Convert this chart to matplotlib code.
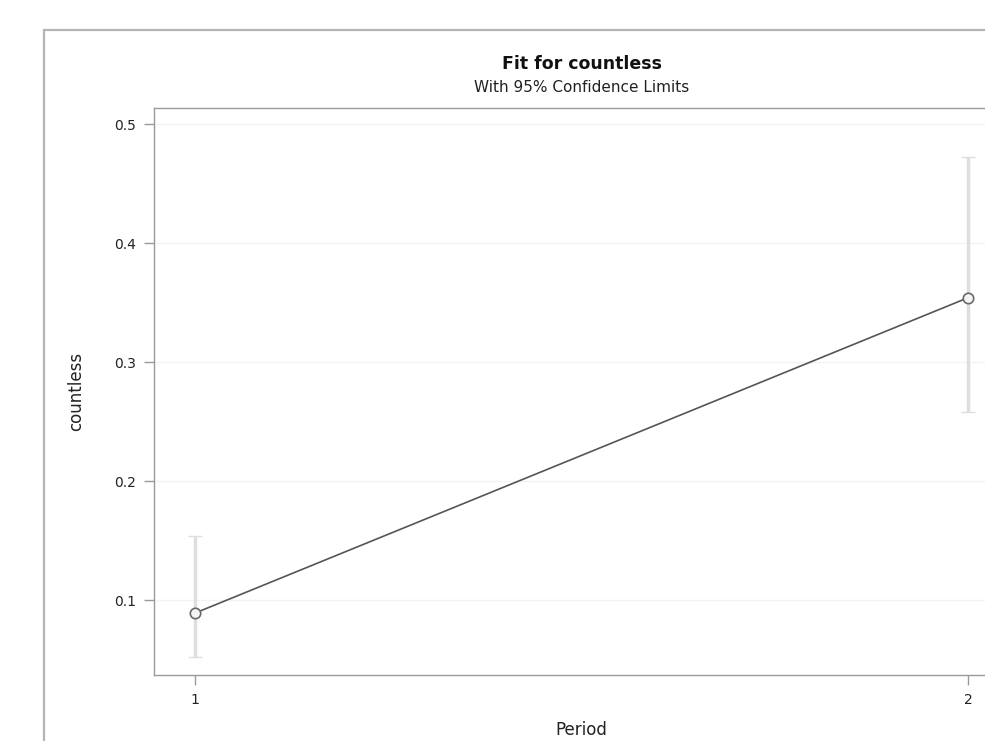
import matplotlib
matplotlib.use("Agg")
import matplotlib.pyplot as plt
from matplotlib.patches import Rectangle

plt.rcParams['font.family'] = ['DejaVu Sans']

period = [1, 2]
estimate = [0.089, 0.354]
lower_cl = [0.052, 0.258]
upper_cl = [0.154, 0.472]
yticks = [0.1, 0.2, 0.3, 0.4, 0.5]
xticks = [1, 2]

W, H = 985, 741
fig = plt.figure(figsize=(W / 100, H / 100), dpi=100)
fig.patch.set_facecolor('white')

# outer graph border (partially cropped)
fig.patches.append(Rectangle((44 / W, -0.1), 1.2, 1 - 30 / H + 0.1,
                             transform=fig.transFigure, fill=False,
                             edgecolor='#b4b4b4', linewidth=1.6, clip_on=False))

ax = fig.add_axes([154 / W, 1 - 675 / H, (1009 - 154) / W, (675 - 108) / H])
ax.set_xlim(1 - 41 / 773, 2 + 41 / 773)
ax.set_ylim(0.1 - 75 / 1190, 0.5 + 16 / 1190)

for y in yticks:
    ax.axhline(y, color='#f3f3f3', linewidth=1, zorder=0)

yerr = [[e - l for e, l in zip(estimate, lower_cl)],
        [u - e for e, u in zip(estimate, upper_cl)]]
ax.errorbar(period, estimate, yerr=yerr, fmt='none', ecolor='#dedede',
            elinewidth=2.5, capsize=5, capthick=1, zorder=1)
ax.plot(period, estimate, color='#555555', linewidth=1.2, zorder=2)
ax.plot(period, estimate, linestyle='none', marker='o', markersize=7.5,
        markerfacecolor='#f4f4f4', markeredgecolor='#6a6a6a',
        markeredgewidth=1.2, zorder=3)

ax.set_xticks(xticks)
ax.set_xticklabels([str(x) for x in xticks])
ax.set_yticks(yticks)
ax.set_yticklabels([f"{y:.1f}" for y in yticks])
for s in ax.spines.values():
    s.set_color('#9a9a9a')
    s.set_linewidth(1)
ax.tick_params(colors='#9a9a9a', labelcolor='#222222', labelsize=10,
               length=7, width=1, direction='out', pad=6)
ax.set_ylabel('countless', fontsize=12, color='#222222')
ax.yaxis.set_label_coords((85 - 154) / 855, 0.5)
ax.set_xlabel('Period', fontsize=12, color='#222222')
ax.xaxis.set_label_coords(0.5, (6 - 66) / 567)
ax.xaxis.label.set_va('baseline')

cx = (154 + 1009) / 2 / W
fig.text(cx, 1 - 69 / H, 'Fit for countless', ha='center', va='baseline',
         fontsize=12.5, fontweight='bold', color='#111111')
fig.text(cx, 1 - 92 / H, 'With 95% Confidence Limits', ha='center',
         va='baseline', fontsize=11, color='#222222')

fig.savefig('out.png', dpi=100, facecolor='white')
